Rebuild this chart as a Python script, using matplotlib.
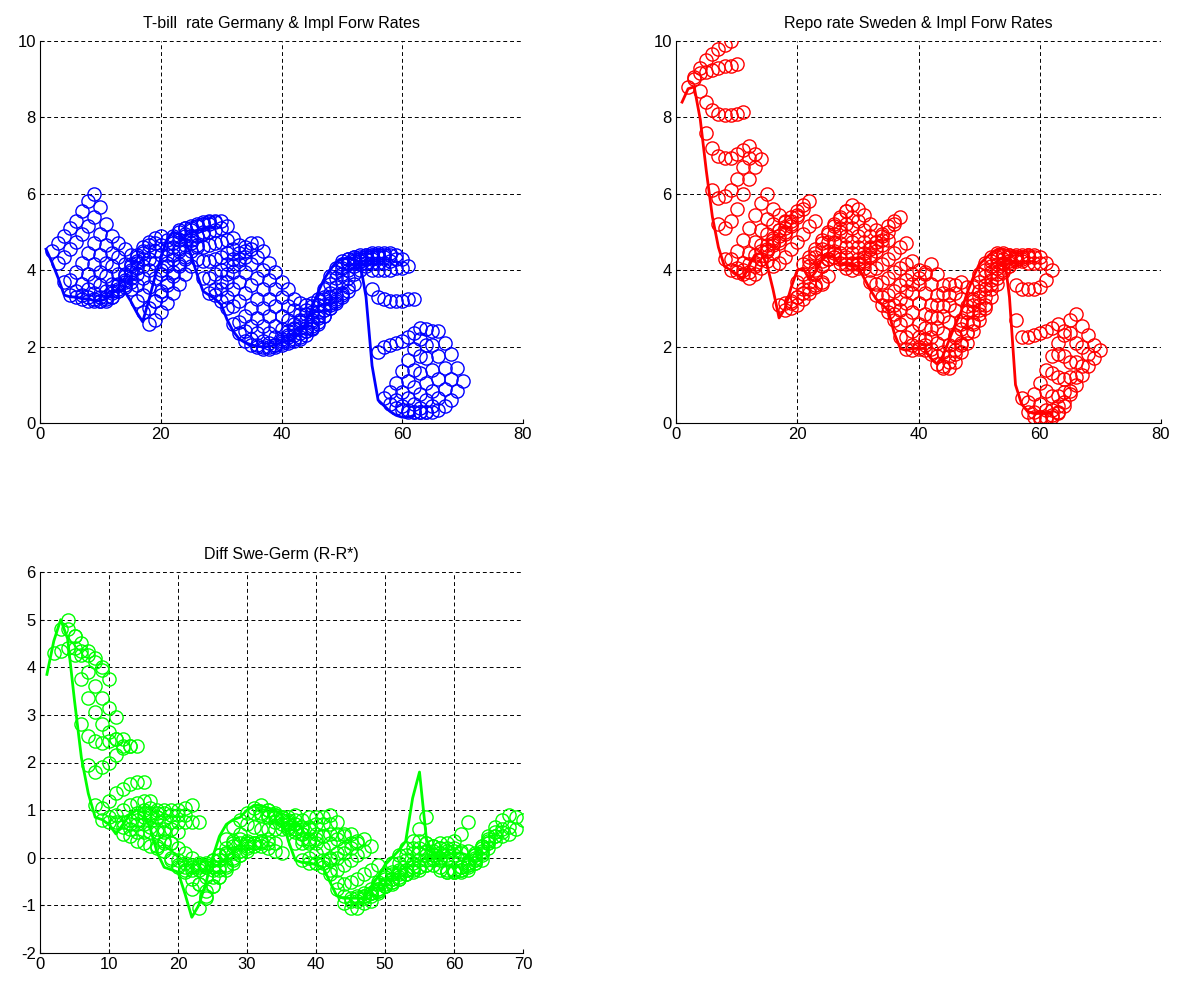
import numpy as np
import matplotlib
matplotlib.use("Agg")
import matplotlib.pyplot as plt

plt.rcParams["font.family"] = ["Liberation Sans", "DejaVu Sans"]
plt.rcParams["axes.unicode_minus"] = False

# quarterly observations, t = 1..62
ger_spot = [4.55, 4.2, 3.8, 3.35, 3.3, 3.3, 3.25, 3.25, 3.2, 3.2,
            3.25, 3.4, 3.5, 3.45, 3.2, 2.9, 2.65, 3.2, 3.8, 4.3,
            4.8, 5.0, 4.95, 4.8, 4.4, 3.9, 3.45, 3.35, 3.25, 3.1,
            2.7, 2.4, 2.2, 2.1, 2.05, 2.0, 2.0, 2.0, 2.05, 2.1,
            2.15, 2.2, 2.35, 2.6, 3.0, 3.4, 3.75, 4.0, 4.2, 4.3,
            4.3, 4.3, 4.2, 3.3, 1.5, 0.6, 0.45, 0.3, 0.2, 0.15,
            0.15, 0.2]

swe_spot = [8.4, 8.75, 8.8, 7.95, 6.6, 5.4, 4.6, 4.1, 4.0, 3.9,
            3.75, 4.1, 4.4, 4.45, 4.15, 3.5, 2.75, 3.0, 3.55, 4.0,
            4.05, 3.75, 3.95, 4.25, 4.4, 4.35, 4.15, 4.15, 4.1, 4.1,
            3.8, 3.5, 3.25, 3.1, 2.95, 2.35, 1.95, 1.9, 1.95, 1.95,
            1.95, 1.7, 1.55, 1.75, 2.15, 2.55, 2.9, 3.4, 3.8, 4.15,
            4.3, 4.45, 4.55, 4.55, 3.3, 1.0, 0.5, 0.3, 0.25, 0.25,
            0.25, 0.25]

# implied forward rates 1..8 quarters ahead, one row per t
ger_fwd = [
    [4.5, 4.7, 4.9, 5.1, 5.3, 5.55, 5.8, 6.0],
    [4.2, 4.35, 4.55, 4.75, 4.95, 5.15, 5.4, 5.65],
    [3.7, 3.75, 3.95, 4.2, 4.45, 4.7, 4.95, 5.2],
    [3.35, 3.45, 3.65, 3.9, 4.15, 4.4, 4.65, 4.9],
    [3.3, 3.35, 3.5, 3.7, 3.95, 4.2, 4.45, 4.7],
    [3.25, 3.3, 3.4, 3.6, 3.85, 4.1, 4.35, 4.55],
    [3.2, 3.25, 3.3, 3.45, 3.65, 3.9, 4.15, 4.4],
    [3.2, 3.2, 3.3, 3.45, 3.65, 3.9, 4.15, 4.4],
    [3.2, 3.25, 3.4, 3.6, 3.85, 4.1, 4.35, 4.6],
    [3.2, 3.3, 3.5, 3.75, 4.0, 4.25, 4.5, 4.75],
    [3.3, 3.45, 3.7, 3.95, 4.2, 4.45, 4.65, 4.85],
    [3.45, 3.6, 3.8, 4.05, 4.3, 4.5, 4.7, 4.9],
    [3.55, 3.7, 3.9, 4.1, 4.3, 4.5, 4.65, 4.8],
    [3.5, 3.6, 3.8, 4.0, 4.2, 4.4, 4.55, 4.7],
    [3.2, 3.35, 3.55, 3.8, 4.0, 4.2, 4.4, 4.55],
    [2.9, 3.0, 3.2, 3.45, 3.7, 3.95, 4.15, 4.35],
    [2.6, 2.7, 2.9, 3.15, 3.4, 3.65, 3.9, 4.1],
    [3.2, 3.35, 3.6, 3.85, 4.1, 4.3, 4.5, 4.65],
    [3.9, 4.1, 4.3, 4.5, 4.65, 4.8, 4.9, 5.0],
    [4.4, 4.6, 4.8, 4.95, 5.05, 5.15, 5.2, 5.25],
    [4.9, 5.0, 5.1, 5.15, 5.2, 5.25, 5.3, 5.3],
    [5.05, 5.1, 5.1, 5.15, 5.2, 5.2, 5.25, 5.3],
    [4.9, 4.9, 4.9, 4.95, 5.0, 5.05, 5.1, 5.15],
    [4.7, 4.6, 4.6, 4.65, 4.7, 4.75, 4.8, 4.85],
    [4.3, 4.25, 4.25, 4.3, 4.35, 4.45, 4.55, 4.65],
    [3.8, 3.8, 3.9, 4.0, 4.15, 4.3, 4.45, 4.6],
    [3.4, 3.5, 3.7, 3.9, 4.1, 4.3, 4.5, 4.7],
    [3.35, 3.5, 3.7, 3.95, 4.15, 4.35, 4.55, 4.7],
    [3.2, 3.3, 3.5, 3.7, 3.95, 4.15, 4.35, 4.5],
    [3.0, 3.05, 3.2, 3.4, 3.6, 3.8, 4.0, 4.2],
    [2.6, 2.65, 2.8, 3.0, 3.25, 3.5, 3.75, 3.95],
    [2.35, 2.4, 2.55, 2.75, 3.0, 3.25, 3.5, 3.7],
    [2.15, 2.2, 2.35, 2.55, 2.8, 3.05, 3.3, 3.5],
    [2.05, 2.05, 2.15, 2.35, 2.55, 2.8, 3.05, 3.25],
    [2.0, 2.0, 2.1, 2.25, 2.45, 2.7, 2.95, 3.15],
    [1.95, 1.95, 2.05, 2.2, 2.4, 2.6, 2.85, 3.1],
    [2.0, 2.05, 2.15, 2.3, 2.5, 2.7, 2.95, 3.15],
    [2.0, 2.1, 2.25, 2.45, 2.65, 2.85, 3.05, 3.25],
    [2.05, 2.15, 2.3, 2.5, 2.7, 2.9, 3.1, 3.3],
    [2.1, 2.2, 2.35, 2.5, 2.7, 2.9, 3.1, 3.3],
    [2.15, 2.25, 2.4, 2.55, 2.75, 2.95, 3.15, 3.35],
    [2.2, 2.3, 2.45, 2.6, 2.8, 3.0, 3.2, 3.35],
    [2.4, 2.5, 2.65, 2.8, 3.0, 3.15, 3.3, 3.45],
    [2.65, 2.8, 2.95, 3.1, 3.25, 3.4, 3.55, 3.65],
    [3.1, 3.25, 3.4, 3.55, 3.7, 3.8, 3.9, 4.0],
    [3.5, 3.65, 3.8, 3.9, 4.0, 4.1, 4.15, 4.2],
    [3.85, 3.95, 4.05, 4.15, 4.2, 4.25, 4.3, 4.35],
    [4.05, 4.15, 4.2, 4.25, 4.3, 4.35, 4.4, 4.4],
    [4.25, 4.3, 4.35, 4.4, 4.4, 4.45, 4.45, 4.45],
    [4.3, 4.35, 4.35, 4.4, 4.4, 4.4, 4.4, 4.45],
    [4.3, 4.3, 4.3, 4.3, 4.35, 4.35, 4.4, 4.4],
    [4.25, 4.2, 4.2, 4.2, 4.2, 4.25, 4.3, 4.3],
    [4.1, 4.0, 4.0, 4.0, 4.0, 4.05, 4.05, 4.1],
    [3.5, 3.3, 3.25, 3.2, 3.2, 3.2, 3.25, 3.25],
    [1.85, 2.0, 2.05, 2.1, 2.15, 2.25, 2.35, 2.5],
    [0.65, 0.8, 1.05, 1.35, 1.65, 1.95, 2.2, 2.45],
    [0.5, 0.6, 0.8, 1.1, 1.4, 1.75, 2.05, 2.4],
    [0.4, 0.45, 0.65, 0.95, 1.3, 1.7, 2.05, 2.4],
    [0.35, 0.35, 0.5, 0.75, 1.05, 1.4, 1.75, 2.1],
    [0.3, 0.3, 0.4, 0.6, 0.85, 1.15, 1.45, 1.8],
    [0.3, 0.3, 0.3, 0.45, 0.65, 0.9, 1.15, 1.45],
    [0.3, 0.3, 0.3, 0.35, 0.45, 0.6, 0.85, 1.1],
]

swe_fwd = [
    [8.8, 9.05, 9.3, 9.5, 9.65, 9.8, 9.9, 10.0],
    [9.0, 9.15, 9.2, 9.25, 9.3, 9.35, 9.35, 9.4],
    [8.7, 8.4, 8.2, 8.1, 8.05, 8.05, 8.1, 8.15],
    [7.6, 7.2, 7.0, 6.95, 6.95, 7.05, 7.15, 7.25],
    [6.1, 5.9, 5.95, 6.1, 6.4, 6.7, 6.95, 7.05],
    [5.2, 5.1, 5.3, 5.6, 6.0, 6.4, 6.7, 6.9],
    [4.3, 4.3, 4.5, 4.8, 5.1, 5.45, 5.75, 6.0],
    [4.0, 4.05, 4.2, 4.45, 4.75, 5.05, 5.35, 5.6],
    [3.95, 4.0, 4.15, 4.4, 4.65, 4.95, 5.2, 5.45],
    [3.9, 3.95, 4.1, 4.3, 4.55, 4.8, 5.05, 5.3],
    [3.8, 3.9, 4.05, 4.25, 4.45, 4.7, 4.95, 5.15],
    [4.15, 4.3, 4.5, 4.7, 4.9, 5.1, 5.3, 5.45],
    [4.5, 4.65, 4.85, 5.05, 5.25, 5.4, 5.55, 5.7],
    [4.5, 4.65, 4.8, 5.0, 5.2, 5.4, 5.6, 5.8],
    [4.1, 4.2, 4.35, 4.55, 4.75, 4.95, 5.15, 5.3],
    [3.1, 3.15, 3.2, 3.3, 3.4, 3.5, 3.6, 3.65],
    [2.95, 3.0, 3.1, 3.25, 3.4, 3.55, 3.7, 3.85],
    [3.15, 3.3, 3.5, 3.7, 3.9, 4.1, 4.3, 4.45],
    [3.7, 3.9, 4.1, 4.35, 4.55, 4.75, 4.95, 5.1],
    [4.15, 4.35, 4.55, 4.8, 5.0, 5.2, 5.4, 5.55],
    [4.25, 4.45, 4.7, 4.95, 5.15, 5.35, 5.55, 5.7],
    [4.0, 4.25, 4.5, 4.75, 5.0, 5.2, 5.4, 5.6],
    [4.1, 4.3, 4.5, 4.7, 4.9, 5.1, 5.3, 5.45],
    [4.3, 4.35, 4.45, 4.6, 4.75, 4.9, 5.05, 5.2],
    [4.35, 4.3, 4.35, 4.45, 4.6, 4.75, 4.9, 5.05],
    [4.2, 4.15, 4.2, 4.3, 4.45, 4.6, 4.75, 4.9],
    [4.05, 4.0, 4.05, 4.2, 4.35, 4.5, 4.65, 4.8],
    [4.15, 4.2, 4.35, 4.55, 4.75, 4.95, 5.15, 5.3],
    [4.15, 4.25, 4.4, 4.6, 4.8, 5.0, 5.2, 5.4],
    [4.05, 4.0, 4.05, 4.15, 4.3, 4.45, 4.6, 4.7],
    [3.7, 3.65, 3.7, 3.8, 3.95, 4.05, 4.15, 4.25],
    [3.35, 3.3, 3.35, 3.45, 3.6, 3.75, 3.9, 4.0],
    [3.1, 3.05, 3.1, 3.25, 3.45, 3.65, 3.8, 3.95],
    [2.9, 2.85, 2.95, 3.15, 3.4, 3.65, 3.9, 4.15],
    [2.7, 2.6, 2.7, 2.9, 3.15, 3.4, 3.65, 3.9],
    [2.25, 2.25, 2.4, 2.6, 2.85, 3.1, 3.35, 3.6],
    [1.95, 2.05, 2.25, 2.5, 2.8, 3.1, 3.4, 3.65],
    [1.9, 2.0, 2.2, 2.45, 2.75, 3.05, 3.35, 3.6],
    [1.95, 2.05, 2.25, 2.5, 2.8, 3.1, 3.4, 3.7],
    [1.9, 1.95, 2.1, 2.35, 2.65, 2.95, 3.25, 3.55],
    [1.8, 1.75, 1.85, 2.05, 2.3, 2.6, 2.9, 3.2],
    [1.55, 1.5, 1.6, 1.8, 2.05, 2.35, 2.65, 2.95],
    [1.45, 1.45, 1.6, 1.85, 2.1, 2.4, 2.7, 3.0],
    [1.75, 1.9, 2.1, 2.35, 2.6, 2.85, 3.1, 3.3],
    [2.25, 2.45, 2.65, 2.9, 3.1, 3.3, 3.5, 3.65],
    [2.7, 2.9, 3.1, 3.3, 3.5, 3.65, 3.8, 3.95],
    [3.05, 3.25, 3.45, 3.6, 3.75, 3.9, 4.0, 4.1],
    [3.55, 3.7, 3.85, 3.95, 4.05, 4.15, 4.2, 4.25],
    [3.9, 4.0, 4.1, 4.15, 4.2, 4.25, 4.3, 4.3],
    [4.2, 4.25, 4.3, 4.3, 4.35, 4.35, 4.35, 4.4],
    [4.35, 4.35, 4.4, 4.4, 4.4, 4.4, 4.4, 4.4],
    [4.45, 4.4, 4.4, 4.35, 4.35, 4.35, 4.35, 4.35],
    [4.45, 4.35, 4.3, 4.25, 4.2, 4.2, 4.2, 4.2],
    [4.1, 3.6, 3.5, 3.5, 3.5, 3.55, 3.75, 4.0],
    [2.7, 2.25, 2.25, 2.3, 2.35, 2.4, 2.5, 2.6],
    [0.65, 0.55, 0.75, 1.05, 1.4, 1.75, 2.1, 2.4],
    [0.3, 0.3, 0.5, 0.85, 1.3, 1.8, 2.3, 2.7],
    [0.15, 0.15, 0.35, 0.7, 1.2, 1.75, 2.35, 2.85],
    [0.1, 0.15, 0.35, 0.7, 1.15, 1.6, 2.1, 2.55],
    [0.1, 0.2, 0.45, 0.8, 1.2, 1.6, 2.0, 2.3],
    [0.15, 0.3, 0.55, 0.85, 1.2, 1.5, 1.8, 2.05],
    [0.25, 0.45, 0.75, 1.0, 1.25, 1.5, 1.7, 1.9],
]

ger_spot = np.array(ger_spot)
swe_spot = np.array(swe_spot)
ger_fwd = np.array(ger_fwd)
swe_fwd = np.array(swe_fwd)
diff_spot = swe_spot - ger_spot
diff_fwd = swe_fwd - ger_fwd

t = np.arange(1, len(ger_spot) + 1)
horizon = np.arange(1, ger_fwd.shape[1] + 1)


def rate_panel(ax, spot, fwd, color, title, xlim, ylim, xticks, yticks):
    for i in range(len(t)):
        ax.plot(t[i] + horizon, fwd[i], "o", ms=9.5, mfc="none", mec=color, mew=1.0)
    ax.plot(t, spot, "-", color=color, lw=2.0)
    ax.set_xlim(xlim)
    ax.set_ylim(ylim)
    ax.set_xticks(xticks)
    ax.set_yticks(yticks)
    ax.tick_params(direction="in", length=3, labelsize=12, pad=3)
    ax.grid(True, color="k", linestyle=(0, (4, 3)), linewidth=0.7)
    ax.set_axisbelow(True)
    for side in ["top", "right"]:
        ax.spines[side].set_visible(False)
    ax.set_title(title, fontsize=11.5, pad=9)


fig = plt.figure(figsize=(11.93, 9.82), dpi=100)
ax1 = fig.add_axes([40 / 1193, (982 - 423) / 982, 483 / 1193, 382 / 982])
ax2 = fig.add_axes([676 / 1193, (982 - 423) / 982, 485 / 1193, 382 / 982])
ax3 = fig.add_axes([40 / 1193, (982 - 953) / 982, 483 / 1193, 381 / 982])

rate_panel(ax1, ger_spot, ger_fwd, "#0000ff", "T-bill  rate Germany & Impl Forw Rates",
           (0, 80), (0, 10), np.arange(0, 81, 20), np.arange(0, 11, 2))
rate_panel(ax2, swe_spot, swe_fwd, "#ff0000", "Repo rate Sweden & Impl Forw Rates",
           (0, 80), (0, 10), np.arange(0, 81, 20), np.arange(0, 11, 2))
rate_panel(ax3, diff_spot, diff_fwd, "#00ff00", "Diff Swe-Germ (R-R*)",
           (0, 70), (-2, 6), np.arange(0, 71, 10), np.arange(-2, 7, 1))

fig.savefig("out.png", dpi=100)
